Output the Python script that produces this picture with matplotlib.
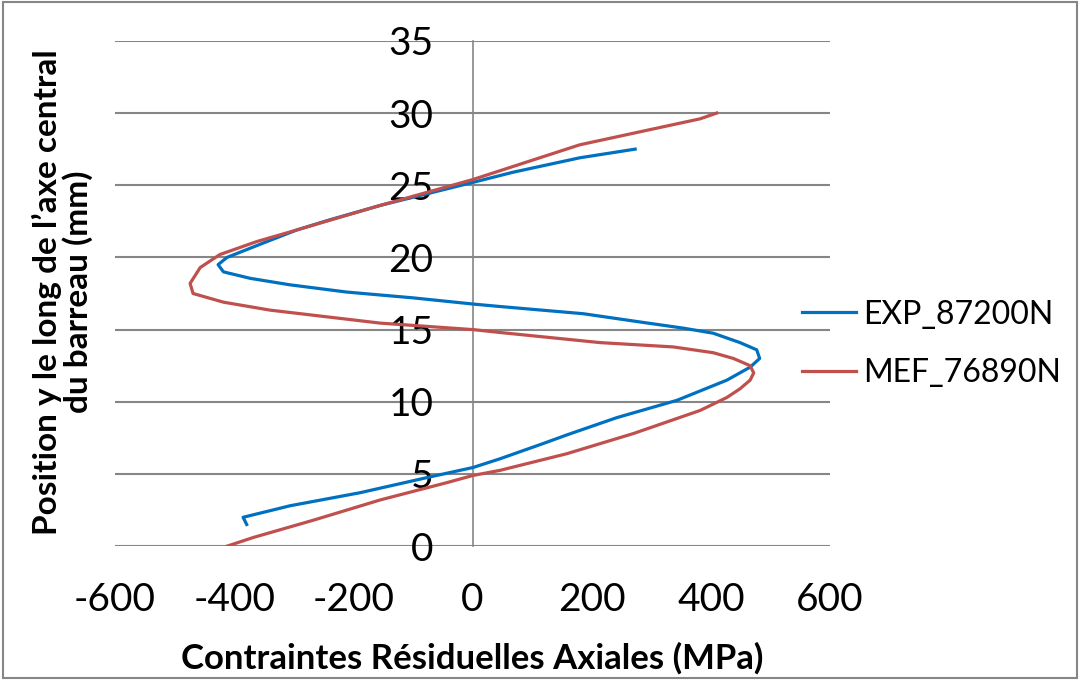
import numpy as np
import matplotlib
matplotlib.use("Agg")
import matplotlib.pyplot as plt
from matplotlib.patches import Rectangle

plt.rcParams['font.family'] = ['Lato', 'DejaVu Sans']
plt.rcParams['axes.unicode_minus'] = False

# EXP_87200N : stress (MPa), position (mm)
exp_stress = [-379, -385, -306, -189, -71, 1, 46, 118, 158, 242, 343, 427, 466, 482,
              477, 449, 404, 354, 286, 186, 46, 1, -100, -211, -306, -373, -418, -427,
              -412, -351, -295, -240, -155, 1, 68, 180, 273]
exp_pos = [1.5, 2.0, 2.8, 3.7, 4.8, 5.45, 6.05, 7.1, 7.7, 8.9, 10.1, 11.5, 12.4, 13.0,
           13.6, 14.1, 14.75, 15.1, 15.5, 16.1, 16.6, 16.77, 17.2, 17.6, 18.1, 18.55, 19.0, 19.5,
           20.0, 21.0, 21.9, 22.6, 23.6, 25.2, 25.9, 26.9, 27.5]

# MEF_76890N
mef_stress = [-412, -368, -267, -155, -43, 1, 46, 158, 270, 382, 427, 449, 466, 472,
              466, 438, 404, 337, 214, 46, 1, -155, -340, -418, -469, -474, -457, -424,
              -362, -295, -155, 1, 180, 382, 410]
mef_pos = [0.0, 0.6, 1.8, 3.2, 4.4, 4.9, 5.25, 6.4, 7.8, 9.4, 10.3, 10.9, 11.5, 12.0,
           12.5, 13.0, 13.4, 13.8, 14.1, 14.8, 15.0, 15.45, 16.35, 16.9, 17.5, 18.2, 19.3, 20.2,
           21.1, 21.9, 23.6, 25.4, 27.8, 29.6, 30.0]

x_ticks = [-600, -400, -200, 0, 200, 400, 600]
y_ticks = [0, 5, 10, 15, 20, 25, 30, 35]

fig = plt.figure(figsize=(10.8, 6.81), dpi=100)
ax = fig.add_axes([0.1065, 0.198, 0.662, 0.742])

grid_color = '#868686'
for yv in y_ticks:
    ax.axhline(yv, color=grid_color, lw=1.5, zorder=1)

ax.plot(exp_stress, exp_pos, color='#0070C0', lw=2.3, label='EXP_87200N', zorder=3)
ax.plot(mef_stress, mef_pos, color='#C0504D', lw=2.3, label='MEF_76890N', zorder=3)

ax.set_xlim(-600, 600)
ax.set_ylim(0, 35)
ax.set_xticks(x_ticks)
ax.set_yticks(y_ticks)
ax.set_xticklabels([str(v) for v in x_ticks])
ax.set_yticklabels([str(v) for v in y_ticks])

for s in ['top', 'right', 'bottom']:
    ax.spines[s].set_visible(False)
ax.spines['left'].set_position(('data', 0))
ax.spines['left'].set_color(grid_color)
ax.spines['left'].set_linewidth(1.2)

ax.tick_params(axis='y', length=0, pad=28, labelsize=28)
ax.tick_params(axis='x', length=0, pad=26, labelsize=28)

fig.text(0.437, 0.034, 'Contraintes Résiduelles Axiales (MPa)', ha='center', va='center',
         fontsize=25, fontweight='bold')
fig.text(0.058, 0.571, 'Position y le long de l\u2019axe central\ndu barreau (mm)',
         rotation=90, ha='center', va='center', fontsize=24, fontweight='bold',
         linespacing=1.0)

handles, labels = ax.get_legend_handles_labels()
fig.legend(handles, labels, loc='center left', bbox_to_anchor=(0.7426, 0.495),
           frameon=False, fontsize=23, handlelength=1.7, handletextpad=0.2,
           labelspacing=0.9, borderpad=0, borderaxespad=0)

fig.patches.append(Rectangle((0.003, 0.004), 0.994, 0.993, transform=fig.transFigure,
                             fill=False, edgecolor='#868686', lw=1.5))

fig.savefig('out.png', dpi=100)
